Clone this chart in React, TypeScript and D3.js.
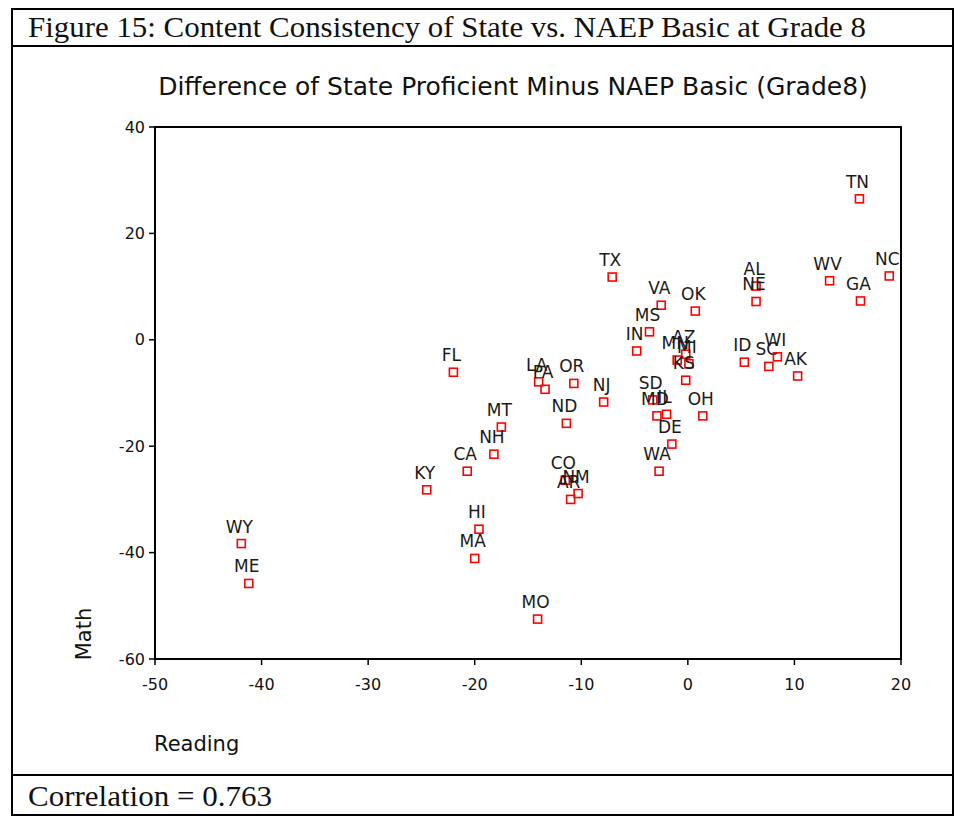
import * as d3 from 'd3';

// state labels with reading / math differences (state proficient minus NAEP basic)
const states = ['TN', 'NC', 'WV', 'GA', 'AL', 'NE', 'ID', 'SC', 'WI', 'AK', 'TX', 'VA', 'OK', 'MS', 'IN', 'AZ', 'MN', 'MI', 'KS', 'SD', 'MD', 'IL', 'OH', 'DE', 'WA', 'NJ', 'FL', 'LA', 'PA', 'OR', 'ND', 'MT', 'NH', 'CA', 'KY', 'CO', 'NM', 'AR', 'HI', 'MA', 'WY', 'ME', 'MO'];
const reading = [16.1, 18.9, 13.3, 16.2, 6.4, 6.4, 5.3, 7.6, 8.4, 10.3, -7.1, -2.5, 0.7, -3.6, -4.8, -0.2, -1.0, 0.1, -0.2, -3.3, -2.9, -2.0, 1.4, -1.5, -2.7, -7.9, -22.0, -14.0, -13.4, -10.7, -11.4, -17.5, -18.2, -20.7, -24.5, -11.5, -10.3, -11.0, -19.6, -20.0, -41.9, -41.2, -14.1];
const math = [26.5, 12.0, 11.1, 7.3, 10.1, 7.2, -4.2, -5.0, -3.2, -6.8, 11.8, 6.5, 5.4, 1.5, -2.1, -2.7, -3.8, -4.5, -7.6, -11.3, -14.3, -14.0, -14.3, -19.6, -24.7, -11.7, -6.1, -7.9, -9.3, -8.2, -15.7, -16.4, -21.5, -24.7, -28.2, -26.4, -28.9, -30.0, -35.6, -41.1, -38.3, -45.8, -52.5];
const xTicks = [-50, -40, -30, -20, -10, 0, 10, 20];
const yTicks = [40, 20, 0, -20, -40, -60];

const W = 956;
const H = 821;
const plot = { left: 155, right: 901, top: 127, bottom: 659 };

const sans = '"DejaVu Sans", Verdana, sans-serif';
const serif = '"Liberation Serif", "Times New Roman", serif';

export default function App() {
  const x = d3.scaleLinear().domain([-50, 20]).range([plot.left, plot.right]);
  const y = d3.scaleLinear().domain([-60, 40]).range([plot.bottom, plot.top]);

  return (
    <div style={{ position: 'absolute', left: 0, top: 0 }}>
      <svg width={W} height={H} style={{ display: 'block', background: '#fff' }}>
        {/* outer frame and panel separators */}
        <rect x={12} y={9} width={941} height={806} fill="none" stroke="#000" strokeWidth={2} />
        <line x1={12} x2={953} y1={46} y2={46} stroke="#000" strokeWidth={2} />
        <line x1={12} x2={953} y1={775} y2={775} stroke="#000" strokeWidth={2} />

        <text x={28} y={37} fontFamily={serif} fontSize={29} fill="#111" textLength={838} lengthAdjust="spacingAndGlyphs">
          Figure 15: Content Consistency of State vs. NAEP Basic at Grade 8
        </text>
        <text x={28} y={806} fontFamily={serif} fontSize={29} fill="#111" textLength={244} lengthAdjust="spacingAndGlyphs">
          Correlation = 0.763
        </text>

        <text x={513} y={95} textAnchor="middle" fontFamily={sans} fontSize={25} fill="#111">
          Difference of State Proficient Minus NAEP Basic (Grade8)
        </text>

        {/* plot frame */}
        <rect
          x={plot.left}
          y={plot.top}
          width={plot.right - plot.left}
          height={plot.bottom - plot.top}
          fill="none"
          stroke="#000"
          strokeWidth={2}
        />

        {yTicks.map((t) => (
          <g key={'y' + t}>
            <line x1={plot.left - 6} x2={plot.left} y1={y(t)} y2={y(t)} stroke="#000" strokeWidth={1.5} />
            <text x={plot.left - 10} y={y(t)} dy="0.35em" textAnchor="end" fontFamily={sans} fontSize={16} fill="#111">
              {t}
            </text>
          </g>
        ))}
        {xTicks.map((t) => (
          <g key={'x' + t}>
            <line x1={x(t)} x2={x(t)} y1={plot.bottom} y2={plot.bottom + 6} stroke="#000" strokeWidth={1.5} />
            <text x={x(t)} y={plot.bottom + 31} textAnchor="middle" fontFamily={sans} fontSize={16} fill="#111">
              {t}
            </text>
          </g>
        ))}

        <text x={154} y={751} fontFamily={sans} fontSize={21} fill="#111">
          Reading
        </text>
        <text
          transform={`translate(91, ${634}) rotate(-90)`}
          textAnchor="middle"
          fontFamily={sans}
          fontSize={21}
          fill="#111"
        >
          Math
        </text>

        {states.map((s, i) => (
          <g key={s}>
            <text
              x={x(reading[i]) - 2}
              y={y(math[i]) - 11}
              textAnchor="middle"
              fontFamily={sans}
              fontSize={17}
              fill="#1a1a1a"
            >
              {s}
            </text>
            <rect
              x={x(reading[i]) - 4}
              y={y(math[i]) - 4}
              width={8}
              height={8}
              fill="none"
              stroke="#ff0000"
              strokeWidth={1.6}
            />
          </g>
        ))}
      </svg>
    </div>
  );
}
